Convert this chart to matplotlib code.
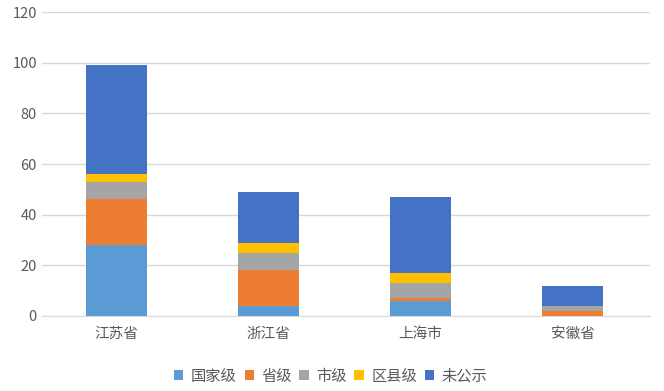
import matplotlib.pyplot as plt
import numpy as np

plt.rcParams['font.family'] = ['Noto Sans CJK SC', 'DejaVu Sans']

# data
provinces = ['江苏省', '浙江省', '上海市', '安徽省']
series_names = ['国家级', '省级', '市级', '区县级', '未公示']
national = [28, 4, 6, 0]
provincial = [18, 14, 1, 2]
municipal = [7, 7, 6, 2]
county = [3, 4, 4, 0]
undisclosed = [43, 20, 30, 8]
yticks = [0, 20, 40, 60, 80, 100, 120]

colors = ['#5B9BD5', '#ED7D31', '#A5A5A5', '#FFC000', '#4472C4']

fig = plt.figure(figsize=(6.64, 3.91), dpi=100)
ax = fig.add_axes([0.063, 0.192, 0.916, 0.777])

x = np.arange(len(provinces))
bottom = np.zeros(len(provinces))
for vals, name, c in zip([national, provincial, municipal, county, undisclosed],
                         series_names, colors):
    ax.bar(x - 0.01, vals, 0.4, bottom=bottom, color=c, label=name, zorder=3)
    bottom += np.array(vals)

ax.set_ylim(0, 120)
ax.set_xlim(-0.5, len(provinces) - 0.5)
ax.set_yticks(yticks)
ax.set_xticks(x - 0.01)
ax.set_xticklabels(provinces)
ax.yaxis.grid(True, color='#D9D9D9', linewidth=1, zorder=0)
for s in ['top', 'right', 'left']:
    ax.spines[s].set_visible(False)
ax.spines['bottom'].set_color('#D9D9D9')
ax.tick_params(length=0, colors='#595959', labelsize=10.5)
ax.tick_params(axis='x', pad=8)

ax.legend(loc='upper center', bbox_to_anchor=(0.475, -0.125), ncol=5, frameon=False,
          fontsize=11, handlelength=0.6, handleheight=0.6, handletextpad=0.5,
          columnspacing=0.5, labelcolor='#595959')

fig.savefig('out.png')
